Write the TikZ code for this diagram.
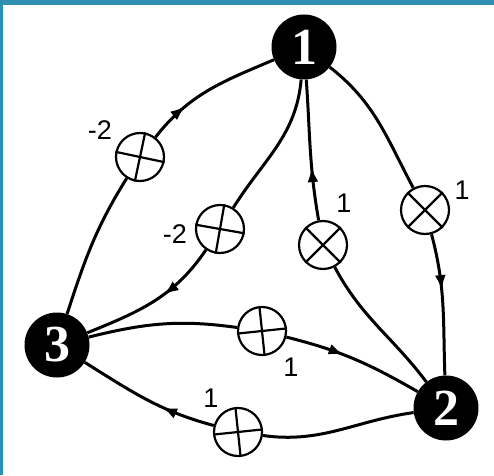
\documentclass[tikz,border=0pt]{standalone}
\usepackage{fontspec}
\setmainfont{Liberation Serif}
\setsansfont{Liberation Sans}
\usetikzlibrary{arrows.meta,decorations.markings}
\definecolor{frameteal}{HTML}{2E8FB0}
\tikzset{
  bignode/.style={circle,fill=black,inner sep=0pt,minimum size=65pt,text=white,
    font=\fontsize{52}{52}\selectfont\bfseries},
  mult/.style={circle,draw=black,line width=2.2pt,inner sep=0pt,minimum size=48pt,fill=white},
  crossline/.style={line width=2.2pt},
  edge/.style={line width=3pt},
  wlabel/.style={font=\sffamily\fontsize{27}{27}\selectfont,inner sep=0pt},
  midarrow/.style={postaction={decorate},decoration={markings,
    mark=at position #1 with {\arrow{Latex[length=15pt,width=11pt]}}}}
}
\begin{document}
\begin{tikzpicture}[x=1pt,y=1pt]
\useasboundingbox (0,0) rectangle (494,475);
\fill[frameteal] (0,0) rectangle (494,475);
\fill[white] (3,0) rectangle (494,470);

% main nodes
\node[bignode] (n1) at (304,428) {1};
\node[bignode] (n2) at (446,67) {2};
\node[bignode] (n3) at (57,130) {3};

% multiplier nodes
\node[mult] (mA) at (140,318) {};
\node[mult] (mB) at (220,246) {};
\node[mult] (mC) at (323,230) {};
\node[mult] (mD) at (425,265) {};
\node[mult] (mE) at (262,144) {};
\node[mult] (mF) at (238,43) {};

% crosses
\draw[crossline] (mA.-12) -- (mA.168) (mA.78) -- (mA.258);
\draw[crossline] (mB.-10) -- (mB.170) (mB.80) -- (mB.260);
\draw[crossline] (mC.45) -- (mC.225) (mC.135) -- (mC.-45);
\draw[crossline] (mD.45) -- (mD.225) (mD.135) -- (mD.-45);
\draw[crossline] (mE.6) -- (mE.186) (mE.96) -- (mE.276);
\draw[crossline] (mF.6) -- (mF.186) (mF.96) -- (mF.276);

% edges
% 3 -> 1 outer (-2)
\draw[edge] (n3) to[out=72,in=238] (mA);
\draw[edge,midarrow=0.3] (mA) to[out=52,in=203] (n1);
% 1 -> 3 inner (-2)
\draw[edge] (n1) to[out=-95,in=58] (mB);
\draw[edge,midarrow=0.42] (mB) to[out=236,in=22] (n3);
% 2 -> 1 (1)
\draw[edge] (n2) to[out=127,in=-62] (mC);
\draw[edge,midarrow=0.38] (mC) to[out=100,in=-86] (n1);
% 1 -> 2 (1)
\draw[edge] (n1) to[out=-38,in=118] (mD);
\draw[edge,midarrow=0.4] (mD) to[out=-75,in=92] (n2);
% 3 -> 2 (1)
\draw[edge] (n3) to[out=14,in=172] (mE);
\draw[edge,midarrow=0.42] (mE) to[out=-14,in=150] (n2);
% 2 -> 3 (1)
\draw[edge] (n2) to[out=188,in=-8] (mF);
\draw[edge,midarrow=0.38] (mF) to[out=165,in=-32] (n3);

% weights
\node[wlabel] (lA) at (100,345) {-2};
\node[wlabel] (lB) at (175,241) {-2};
\node[wlabel] (lC) at (344,272) {1};
\node[wlabel] (lD) at (462,285) {1};
\node[wlabel] (lE) at (291,108) {1};
\node[wlabel] (lF) at (211,77) {1};
\end{tikzpicture}
\end{document}
